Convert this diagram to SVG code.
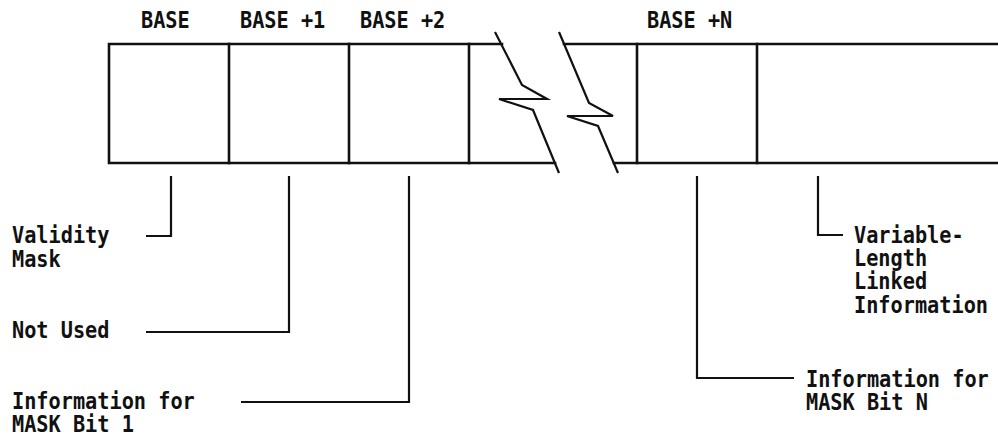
<svg xmlns="http://www.w3.org/2000/svg" width="998" height="436" viewBox="0 0 998 436">
  <style>
    .lbl { font-family: "DejaVu Sans Mono", "Liberation Mono", monospace; font-size: 22.5px; font-weight: bold; fill: #111; }
    .edge { fill: none; stroke: #111; stroke-width: 2.6; stroke-linecap: square; }
    .brk { fill: none; stroke: #111; stroke-width: 2.2; stroke-linejoin: miter; }
    .lead { fill: none; stroke: #111; stroke-width: 2.2; }
  </style>
  <rect width="998" height="436" fill="#fff"/>

  <!-- record layout: header cells and break marks -->
  <g id="record">
    <path class="edge" d="M109,44 H502 M564,44 H998 M109,163 H555 M614,163 H998 M109,44 V163"/>
    <g id="cell-base"><path class="edge" d="M229,44 V163"/></g>
    <g id="cell-base1"><path class="edge" d="M349,44 V163"/></g>
    <g id="cell-base2"><path class="edge" d="M469,44 V163"/></g>
    <g id="cell-basen"><path class="edge" d="M637,44 V163 M757,44 V163"/></g>
    <g id="break">
      <path class="brk" d="M495,32 L522,85 L547,99 L499,99 L533,110 L559,173"/>
      <path class="brk" d="M559,32 L589,103 L613,116 L567,116 L598,126 L618,173"/>
    </g>
  </g>

  <!-- offset labels above the record (condensed monospace) -->
  <g id="offsets">
    <text class="lbl" transform="translate(141,28) scale(0.9,1)">BASE</text>
    <text class="lbl" transform="translate(240,28) scale(0.9,1)">BASE +1</text>
    <text class="lbl" transform="translate(360,28) scale(0.9,1)">BASE +2</text>
    <text class="lbl" transform="translate(647,28) scale(0.9,1)">BASE +N</text>
  </g>

  <!-- leader lines from fields to descriptions -->
  <g id="connectors">
    <path class="lead" d="M171,176 V236 H146"/>
    <path class="lead" d="M289,176 V332 H146"/>
    <path class="lead" d="M409,176 V402 H241"/>
    <path class="lead" d="M697,176 V378 H794"/>
    <path class="lead" d="M818,176 V235 H843"/>
  </g>

  <g id="validity-mask">
    <text class="lbl" transform="translate(12,243) scale(0.9,1)">Validity</text>
    <text class="lbl" transform="translate(12,267) scale(0.9,1)">Mask</text>
  </g>
  <g id="not-used">
    <text class="lbl" transform="translate(12,338) scale(0.9,1)">Not Used</text>
  </g>
  <g id="info-bit1">
    <text class="lbl" transform="translate(12,409) scale(0.9,1)">Information for</text>
    <text class="lbl" transform="translate(12,432) scale(0.9,1)">MASK Bit 1</text>
  </g>
  <g id="info-bitn">
    <text class="lbl" transform="translate(806,387) scale(0.9,1)">Information for</text>
    <text class="lbl" transform="translate(806,410) scale(0.9,1)">MASK Bit N</text>
  </g>
  <g id="variable-info">
    <text class="lbl" transform="translate(854,243) scale(0.9,1)">Variable-</text>
    <text class="lbl" transform="translate(854,266) scale(0.9,1)">Length</text>
    <text class="lbl" transform="translate(854,289) scale(0.9,1)">Linked</text>
    <text class="lbl" transform="translate(854,313) scale(0.9,1)">Information</text>
  </g>
</svg>
